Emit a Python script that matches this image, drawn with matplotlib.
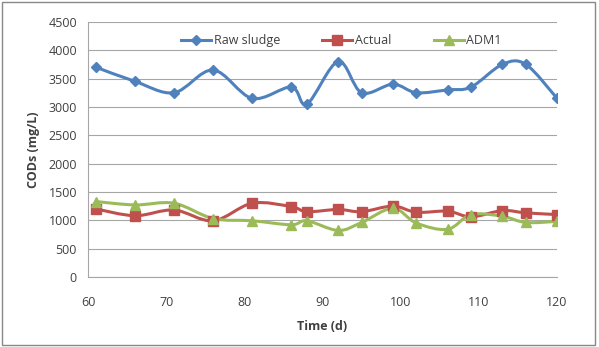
import numpy as np
import matplotlib.pyplot as plt
from matplotlib.path import Path
from matplotlib.patches import PathPatch, Rectangle
from matplotlib.lines import Line2D

plt.rcParams['font.family'] = ['Open Sans', 'DejaVu Sans']

time_d = [61, 66, 71, 76, 81, 86, 88, 92, 95, 99, 102, 106, 109, 113, 116, 120]
raw_sludge = [3700, 3450, 3250, 3650, 3150, 3350, 3050, 3800, 3250, 3400, 3250, 3300, 3350, 3750, 3750, 3150]
actual = [1200, 1080, 1180, 990, 1300, 1240, 1150, 1190, 1150, 1250, 1140, 1160, 1060, 1170, 1130, 1100]
adm1 = [1330, 1270, 1300, 1030, 990, 920, 990, 820, 960, 1210, 950, 840, 1100, 1070, 960, 980]


def smooth_path(x, y, t=0.5 / 3):
    # bezier path through the points, like Excel's smoothed line
    x = np.asarray(x, float)
    y = np.asarray(y, float)
    verts = [(x[0], y[0])]
    codes = [Path.MOVETO]
    n = len(x)
    for i in range(n - 1):
        x0, y0 = (x[i - 1], y[i - 1]) if i > 0 else (x[i], y[i])
        x3, y3 = (x[i + 2], y[i + 2]) if i + 2 < n else (x[i + 1], y[i + 1])
        c1 = (x[i] + (x[i + 1] - x0) * t, y[i] + (y[i + 1] - y0) * t)
        c2 = (x[i + 1] - (x3 - x[i]) * t, y[i + 1] - (y3 - y[i]) * t)
        verts += [c1, c2, (x[i + 1], y[i + 1])]
        codes += [Path.CURVE4] * 3
    return Path(verts, codes)


fig = plt.figure(figsize=(5.99, 3.47), dpi=100)
fig.patches.append(Rectangle((0.004, 0.006), 0.99, 0.988, transform=fig.transFigure,
                             fill=False, edgecolor='#888888', linewidth=1.0))
ax = fig.add_axes([0.147, 0.202, 0.783, 0.735])

series = [
    ('Raw sludge', raw_sludge, '#4F81BD', 'D', 5.5),
    ('Actual', actual, '#C0504D', 's', 6.5),
    ('ADM1', adm1, '#9BBB59', '^', 6.5),
]
handles = []
for name, vals, col, mk, ms in series:
    ax.add_patch(PathPatch(smooth_path(time_d, vals), fill=False, edgecolor=col,
                           linewidth=2.2, zorder=3))
    ax.plot(time_d, vals, linestyle='none', marker=mk, markersize=ms, color=col, zorder=4)
    handles.append(Line2D([], [], color=col, linewidth=2.2, marker=mk, markersize=ms))

ax.set_xlim(60, 120)
ax.set_ylim(0, 4500)
ax.set_xticks(range(60, 121, 10))
ax.set_yticks(range(0, 4501, 500))
ax.grid(axis='y', color='#A6A6A6', linewidth=0.8)
ax.set_axisbelow(True)
for s in ['top', 'right']:
    ax.spines[s].set_visible(False)
for s in ['left', 'bottom']:
    ax.spines[s].set_color('#A6A6A6')
ax.tick_params(length=0, labelsize=9, colors='#404040', pad=8)
ax.tick_params(axis='x', pad=14)
ax.set_xlabel('Time (d)', fontsize=9, fontweight='bold', color='#404040', labelpad=8)
ax.set_ylabel('CODs (mg/L)', fontsize=9, fontweight='bold', color='#404040', labelpad=6)

ax.legend(handles, [s[0] for s in series], loc='upper center', bbox_to_anchor=(0.54, 0.995),
          ncol=3, frameon=False, fontsize=9, handlelength=2.4, handletextpad=0.2,
          columnspacing=3.4, labelcolor='#404040')

plt.savefig('out.png', dpi=100)
